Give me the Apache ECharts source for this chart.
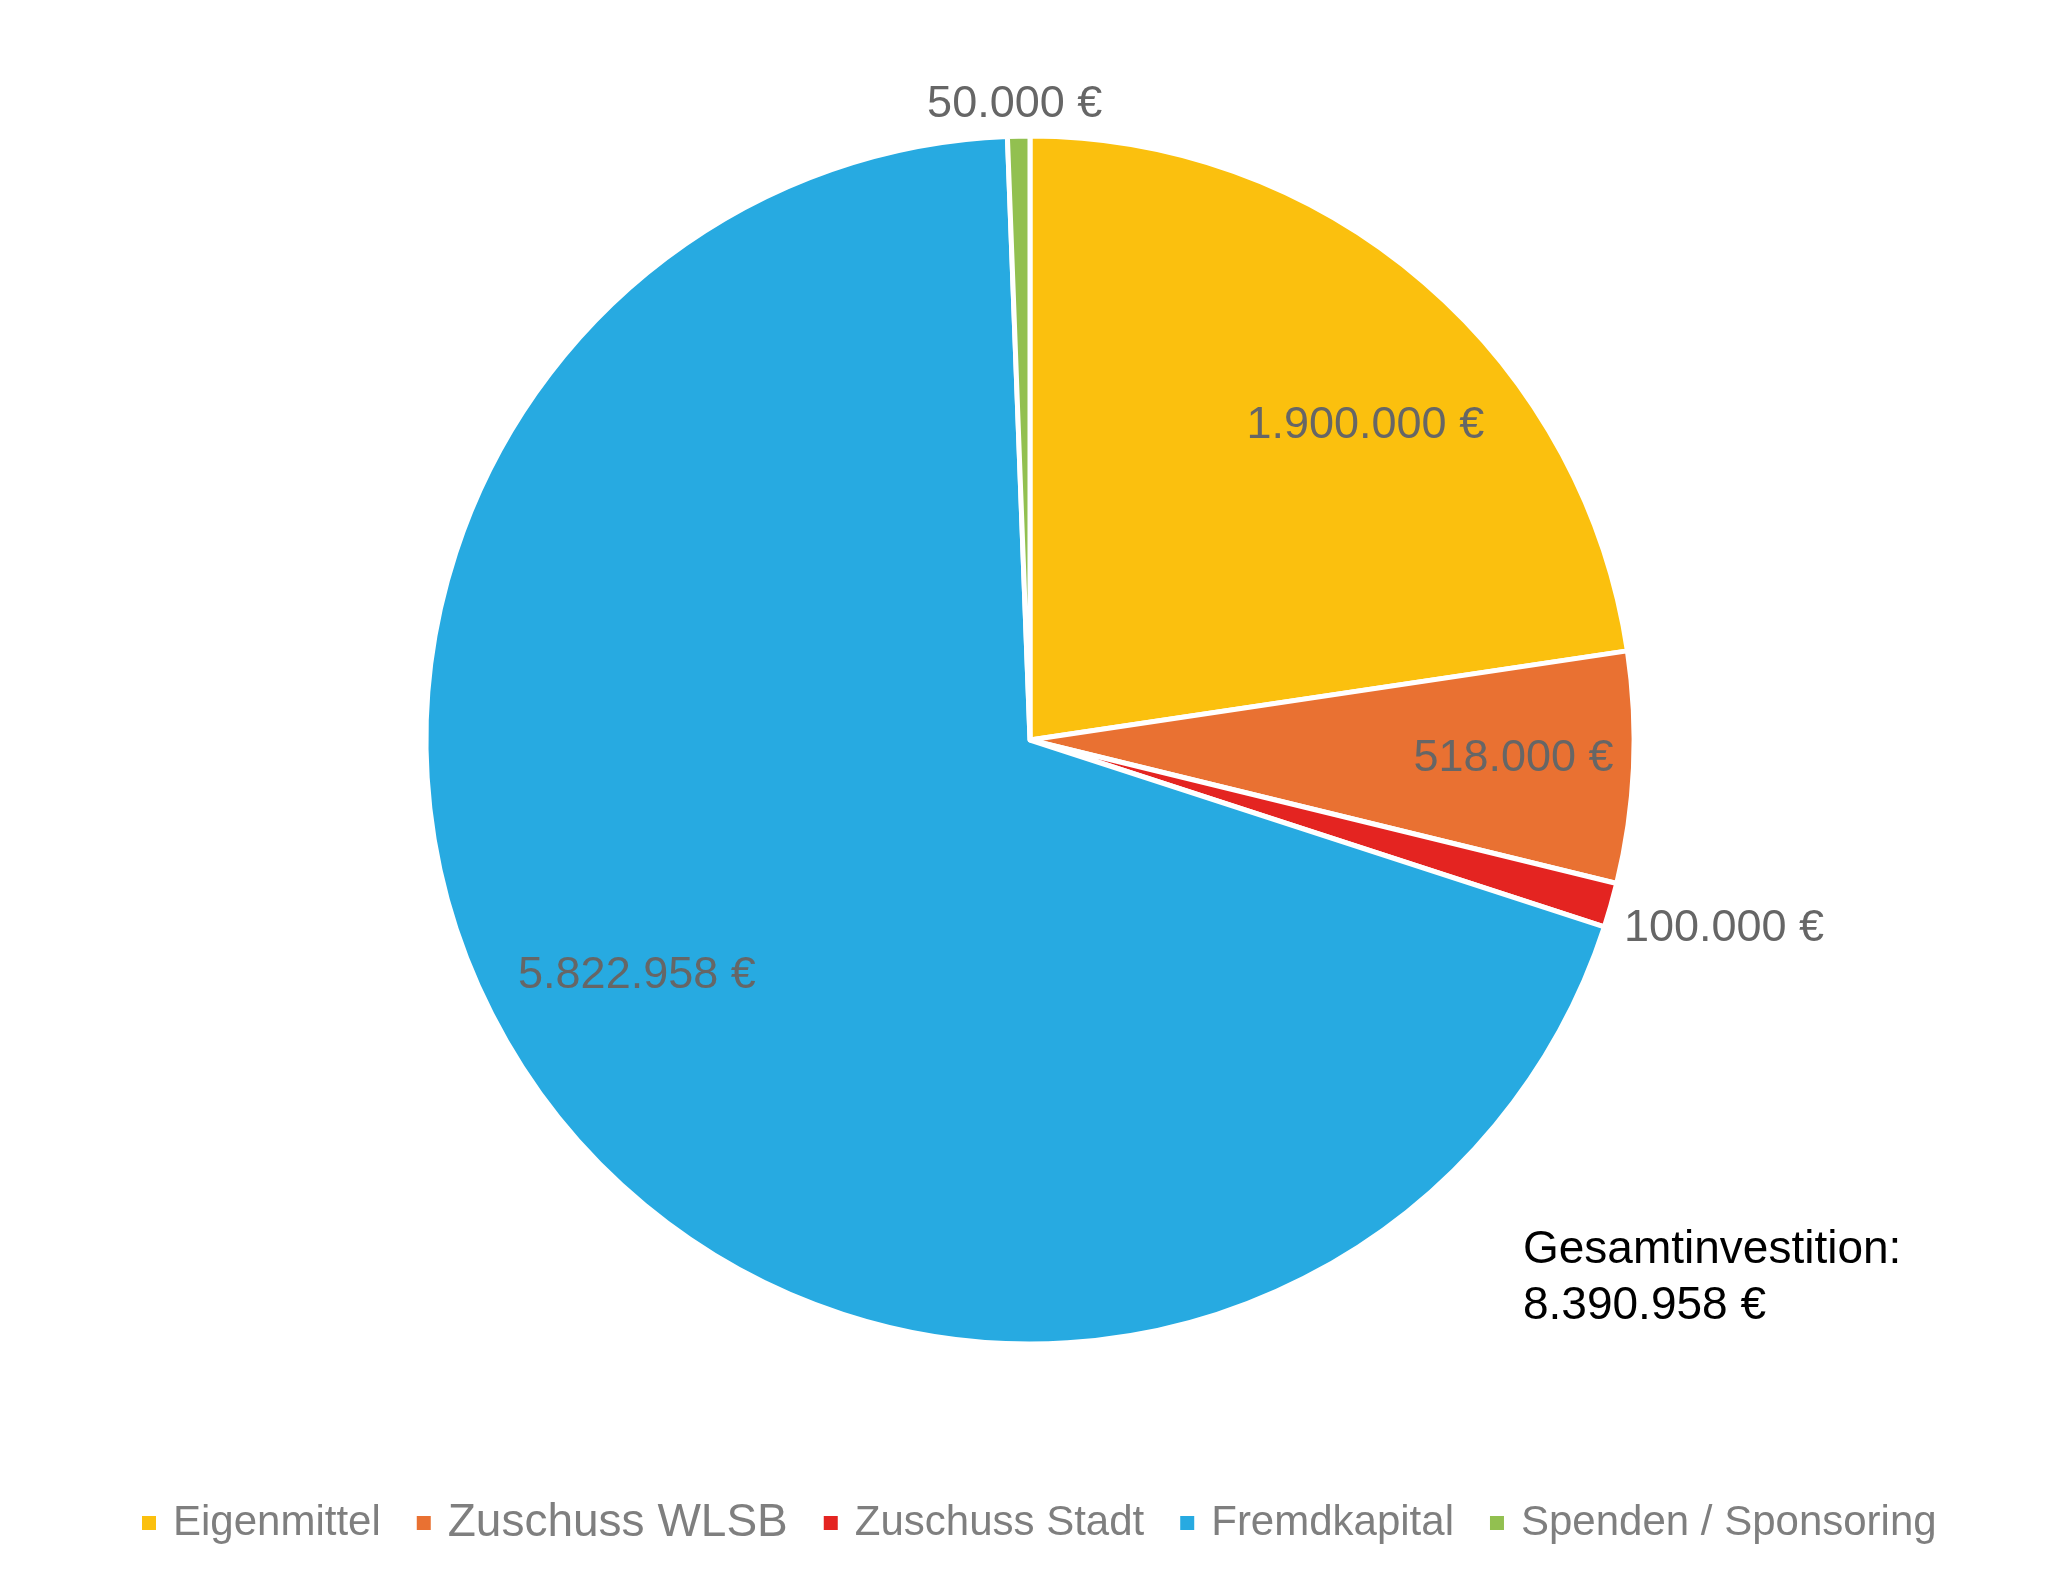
<!DOCTYPE html>
<html>
<head>
<meta charset="utf-8">
<title>Finanzierung</title>
<script src="https://cdn.jsdelivr.net/npm/echarts@6.0.0/dist/echarts.min.js"></script>
<style>
html, body { margin: 0; padding: 0; background: #fff; }
#main { width: 2059px; height: 1578px; }
</style>
</head>
<body>
<div id="main"></div>
<script>
// Daten
var categories = ['Eigenmittel', 'Zuschuss WLSB', 'Zuschuss Stadt', 'Fremdkapital', 'Spenden / Sponsoring'];
var values = [1900000, 518000, 100000, 5822958, 50000];
var colors = ['#FBC00E', '#E97132', '#E42421', '#27AAE1', '#92C050'];
var totalTitle = 'Gesamtinvestition:';

// 1234567 -> "1.234.567 €"
function euro(v){
	var s = String(Math.round(v));
	return s.replace(/\B(?=(\d{3})+(?!\d))/g, '.') + ' €';
}

var total = 0;
for(var i = 0; i < values.length; i++){
	total += values[i];
}

var font = '"Liberation Sans", Arial, sans-serif';
var center = [1030, 740];
var R = 604;

// wo Excel die Beschriftung hinsetzt
var labelPos = ['inside', 'inside', 'outside', 'inside', 'outside'];
var labelShift = [[35, 34], [24, -3], [8, 23], [-26, -42], [1, -32]];

var pieData = [], labelData = [], legendData = [];
for(var i = 0; i < categories.length; i++){
	pieData.push({ name: categories[i], value: values[i], itemStyle: { color: colors[i] } });
	labelData.push({
		name: categories[i],
		value: values[i],
		label: { position: labelPos[i] }
	});
	legendData.push(i == 1 ? { name: categories[i], textStyle: { fontSize: 46 } } : { name: categories[i] });
}

var myChart = echarts.init(document.getElementById('main'));
var option = {
	backgroundColor: '#ffffff',
	animation: false,
	legend: {
		data: legendData,
		top: 1495,
		left: 135,
		icon: 'rect',
		itemWidth: 16,
		itemHeight: 16,
		itemGap: 34,
		textStyle: {
			fontFamily: font,
			fontSize: 42,
			color: '#7F7F7F',
			padding: [0, 0, 0, 11]
		}
	},
	graphic: [{
		type: 'text',
		left: 1523,
		top: 1222,
		style: {
			text: totalTitle + '\n' + euro(total),
			font: '46px ' + font,
			lineHeight: 56,
			fill: '#000000'
		}
	}],
	series: [{
		// die eigentliche Torte
		name: 'Finanzierung',
		type: 'pie',
		center: center,
		radius: [0, R],
		startAngle: 90,
		clockwise: true,
		avoidLabelOverlap: false,
		label: { show: false },
		labelLine: { show: false },
		itemStyle: { borderColor: '#ffffff', borderWidth: 5 },
		emphasis: { disabled: true },
		data: pieData
	}, {
		// unsichtbarer Ring nur fuer die Beschriftungen
		name: 'Beschriftung',
		type: 'pie',
		center: center,
		radius: [310, R],
		startAngle: 90,
		clockwise: true,
		silent: true,
		avoidLabelOverlap: false,
		itemStyle: { color: 'rgba(0,0,0,0)', borderWidth: 0 },
		emphasis: { disabled: true },
		label: {
			show: true,
			fontFamily: font,
			fontSize: 45,
			color: '#666666',
			formatter: function(p){ return euro(p.value); }
		},
		labelLine: { show: false, length: 0, length2: 0 },
		labelLayout: function(p){
			var s = labelShift[p.dataIndex];
			var out = { dx: s[0], dy: s[1] };
			if(p.dataIndex == 4){
				out.align = 'center';
			}
			return out;
		},
		data: labelData
	}]
};
myChart.setOption(option, true);
</script>
</body>
</html>
